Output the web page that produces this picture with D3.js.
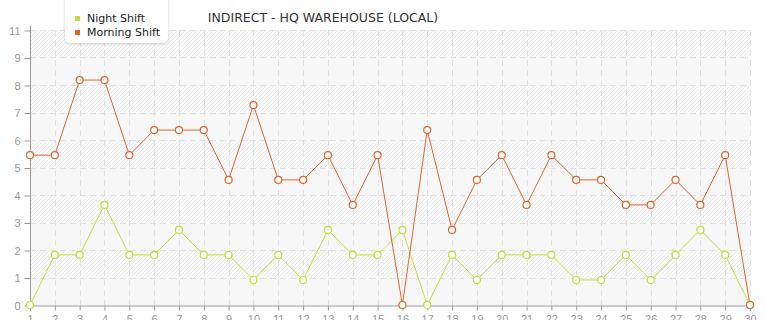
<!DOCTYPE html>
<html>
<head>
<meta charset="utf-8">
<script src="https://cdn.jsdelivr.net/npm/d3@7"></script>
<style>
  body { margin: 0; background: #fff; }
  svg { display: block; font-family: "DejaVu Sans", Verdana, sans-serif; }
</style>
</head>
<body>
<div id="chart"></div>
<script>
// chart data
var days = d3.range(1, 31);
var nightShift = [0, 1.82, 1.82, 3.64, 1.82, 1.82, 2.73, 1.82, 1.82, 0.91,
  1.82, 0.91, 2.73, 1.82, 1.82, 2.73, 0, 1.82, 0.91, 1.82,
  1.82, 1.82, 0.91, 0.91, 1.82, 0.91, 1.82, 2.73, 1.82, 0];
var morningShift = [5.45, 5.45, 8.18, 8.18, 5.45, 6.36, 6.36, 6.36, 4.55, 7.27,
  4.55, 4.55, 5.45, 3.64, 5.45, 0, 6.36, 2.73, 4.55, 5.45,
  3.64, 5.45, 4.55, 4.55, 3.64, 3.64, 4.55, 3.64, 5.45, 0];
var yTicks = [0, 1, 2, 3, 4, 5, 6, 7, 8, 9, 10];
var yTickLabels = ["0", "1", "2", "3", "4", "5", "6", "7", "8", "9", "11"];
var seriesNames = ["Night Shift", "Morning Shift"];
var seriesColors = ["#c4df3a", "#e0642e"];

var width = 765;
var height = 320;
var plotLeft = 30, plotRight = 750, plotTop = 30, plotBottom = 305;

var svg = d3.select("#chart")
  .append("svg")
  .attr("width", width)
  .attr("height", height);

var defs = svg.append("defs");
var hatch = defs.append("pattern")
  .attr("id", "hatch")
  .attr("patternUnits", "userSpaceOnUse")
  .attr("width", 4)
  .attr("height", 4);
hatch.append("rect").attr("width", 4).attr("height", 4).attr("fill", "#fbfbfb");
hatch.append("path")
  .attr("d", "M-1,1 l2,-2 M0,4 l4,-4 M3,5 l2,-2")
  .attr("stroke", "#eaeaea")
  .attr("stroke-width", 1);

var xScale = d3.scaleLinear().domain([1, 30]).range([plotLeft, plotRight]);
var yScale = d3.scaleLinear().domain([0, 10]).range([plotBottom, plotTop]);

// background bands
svg.append("g").selectAll("rect")
  .data(d3.range(0, 10))
  .enter()
  .append("rect")
  .attr("x", plotLeft)
  .attr("width", plotRight - plotLeft)
  .attr("y", function (d) { return yScale(d + 1); })
  .attr("height", function (d) { return yScale(d) - yScale(d + 1); })
  .attr("fill", function (d) { return d % 2 === 1 ? "url(#hatch)" : "#f7f7f7"; });

// grid
svg.append("g")
  .selectAll("line")
  .data(yTicks.slice(1))
  .enter()
  .append("line")
  .attr("x1", plotLeft).attr("x2", plotRight)
  .attr("y1", function (d) { return Math.round(yScale(d)) + 0.5; })
  .attr("y2", function (d) { return Math.round(yScale(d)) + 0.5; })
  .attr("stroke", "#e2e2e2")
  .attr("stroke-dasharray", "6,4");

svg.append("g")
  .selectAll("line")
  .data(days.slice(1))
  .enter()
  .append("line")
  .attr("x1", function (d) { return Math.round(xScale(d)) + 0.5; })
  .attr("x2", function (d) { return Math.round(xScale(d)) + 0.5; })
  .attr("y1", plotTop).attr("y2", plotBottom)
  .attr("stroke", "#e2e2e2")
  .attr("stroke-dasharray", "6,4");

// axes
var yAxis = d3.axisLeft(yScale)
  .tickValues(yTicks)
  .tickSize(6)
  .tickPadding(4)
  .tickFormat(function (d, i) { return yTickLabels[i]; });
var xAxis = d3.axisBottom(xScale)
  .tickValues(days)
  .tickSize(5)
  .tickPadding(5)
  .tickFormat(d3.format("d"));

var gy = svg.append("g")
  .attr("transform", "translate(" + (plotLeft + 0.5) + ",0.5)")
  .call(yAxis);
var gx = svg.append("g")
  .attr("transform", "translate(0," + (plotBottom + 0.5) + ")")
  .call(xAxis);
[gx, gy].forEach(function (g) {
  g.select(".domain").attr("stroke", "#999");
  g.selectAll(".tick line").attr("stroke", "#999");
  g.selectAll(".tick text").attr("fill", "#999").style("font-size", "11px");
});
gy.select(".domain").attr("d", "M0," + plotBottom + "V" + (plotTop - 5));

// lines and points
var series = [nightShift, morningShift];
var line = d3.line()
  .x(function (d, i) { return xScale(days[i]); })
  .y(function (d) { return yScale(d); });

series.forEach(function (values, s) {
  svg.append("path")
    .datum(values)
    .attr("d", line)
    .attr("fill", "none")
    .attr("stroke", seriesColors[s])
    .attr("stroke-width", 1);
  svg.append("g")
    .selectAll("circle")
    .data(values)
    .enter()
    .append("circle")
    .attr("cx", function (d, i) { return xScale(days[i]); })
    .attr("cy", function (d) { return yScale(d); })
    .attr("r", 3.5)
    .attr("fill", "#fff")
    .attr("stroke", seriesColors[s])
    .attr("stroke-width", 1.2);
});

// title
svg.append("text")
  .attr("x", 323)
  .attr("y", 22)
  .attr("text-anchor", "middle")
  .attr("fill", "#333")
  .style("font-size", "12.5px")
  .text("INDIRECT - HQ WAREHOUSE (LOCAL)");

// legend
var legend = svg.append("g");
defs.append("filter")
  .attr("id", "shadow")
  .attr("x", "-20%").attr("y", "-20%").attr("width", "140%").attr("height", "160%")
  .append("feDropShadow")
  .attr("dx", 0).attr("dy", 1).attr("stdDeviation", 1.5)
  .attr("flood-color", "#000").attr("flood-opacity", 0.18);
legend.append("rect")
  .attr("x", 65).attr("y", -10)
  .attr("width", 103).attr("height", 53)
  .attr("rx", 5)
  .attr("fill", "#fff")
  .attr("filter", "url(#shadow)");
seriesNames.forEach(function (name, i) {
  legend.append("rect")
    .attr("x", 75).attr("y", 16 + i * 14)
    .attr("width", 5).attr("height", 5)
    .attr("fill", seriesColors[i]);
  legend.append("text")
    .attr("x", 87).attr("y", 22 + i * 14)
    .attr("fill", "#222")
    .style("font-size", "11px")
    .text(name);
});
</script>
</body>
</html>
